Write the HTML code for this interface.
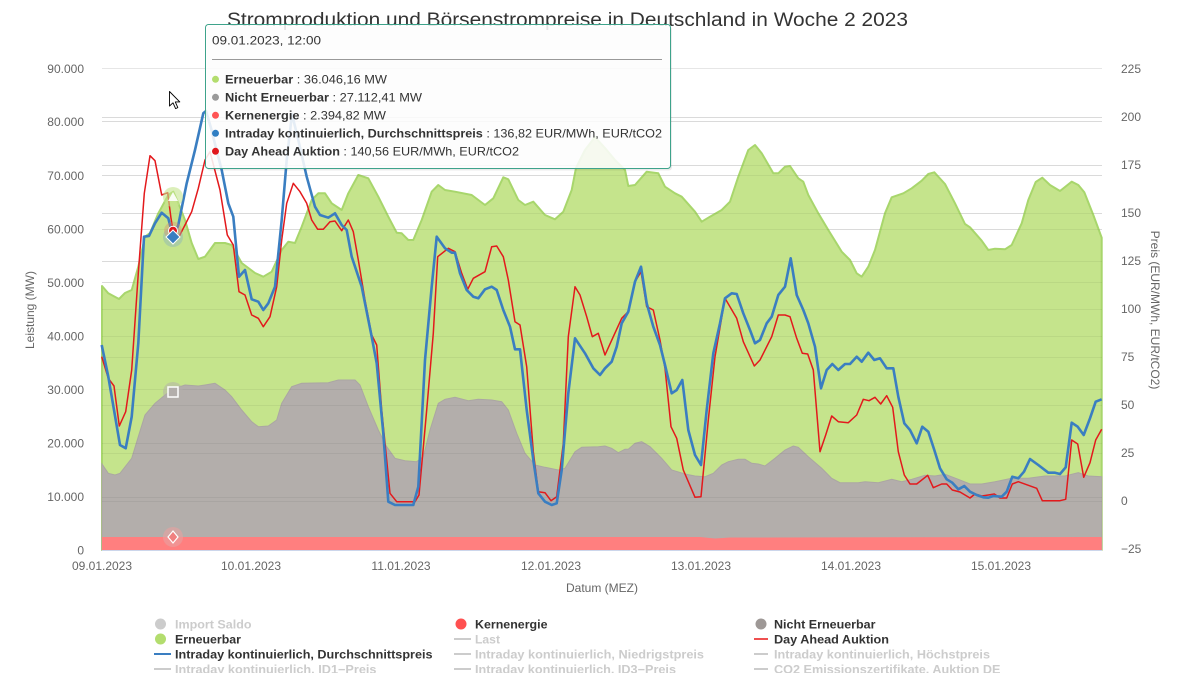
<!DOCTYPE html>
<html><head><meta charset="utf-8"><style>
html,body{margin:0;padding:0;background:#fff;}
svg{display:block;font-family:"Liberation Sans",sans-serif;}
</style></head><body>
<svg width="1186" height="673" viewBox="0 0 1186 673" xmlns="http://www.w3.org/2000/svg">
<rect width="1186" height="673" fill="#fff"/>
<!-- grid -->
<g stroke="#e6e6e6" stroke-width="1">
<path d="M102 68.5H1102M102 121.5H1102M102 175.5H1102M102 229.5H1102M102 282.5H1102M102 336.5H1102M102 389.5H1102M102 443.5H1102M102 497.5H1102"/>
<path d="M102 117.5H1102M102 165.5H1102M102 213.5H1102M102 261.5H1102M102 309.5H1102M102 357.5H1102M102 405.5H1102M102 453.5H1102M102 501.5H1102"/>
</g>
<!-- green area -->
<path fill="#c5e48c" stroke="#a8d66c" stroke-width="2" stroke-linejoin="round" d="M102,550 L102,286 108.3,293.3 119,299 125,293 131.7,290 138.3,266.7 145,236.7 150,233 158.3,213.3 168.3,195 173.3,191.7 178.3,203 185,220 191.7,243 198.3,259 205,256.7 215,243 225,243 231.7,245 241.7,263 255,273 263.3,276.7 271.7,271.7 281.7,250 288.3,241.7 295,243 301.7,226.7 311.7,200 318.3,193.3 325,193.3 331.7,203.3 341.7,210 348.3,193.3 358.3,175 368.3,178.3 378.3,196.7 388.3,216.7 396.7,232.7 401.7,233.3 408.3,240 413.3,240 421.7,220 431.7,191.7 438.3,185 445,190 455,191.7 471.7,195 485,205 493.3,198.3 503.3,177.3 508.3,179.3 518.3,200 525,205 533.3,201.7 545,215 555,219.3 563.3,211.7 571.7,190 576,168 585,150 595,137 605,148 615,160 625,170 628.3,186 635,185 646.7,171.7 658.3,173.3 665,186.7 675,193.3 681.7,196.7 695,211.7 701.7,221.7 710,216.7 721.7,210 730,201.7 738.3,176.7 748.3,150 755,145 761.7,153.3 773.3,173.3 778.3,173.3 785,166.7 790,166 798.3,178.3 803.3,181.7 808.3,195 818.3,213.3 828.3,230 841.7,251.7 850,260 856.7,273.3 861.7,276.7 868.3,266.7 875,250 885,213.3 891.7,197.3 903.3,193.3 911.7,188.3 921.7,180.7 928.3,174 934.3,172.3 945,184 955,203.3 965,224 970,227.3 981.7,240.7 988.3,250 995,248.7 1005,249.3 1011.7,245 1021.7,223.3 1028.3,200 1035.7,182 1042.3,177.7 1050,185 1060,191 1071.7,181.7 1078.3,185 1084.3,192.3 1093.3,215 1101.7,237.7 L1101.7,550 Z"/>
<!-- gray area -->
<path fill="#b3aeab" stroke="#aba6a3" stroke-width="1" d="M102,550 L102,464 108.3,473.3 115,475 120,473.3 131.7,458.3 138.3,436.7 145,415 155,403.3 165,395 175,388.3 185,385 198.3,386 205,385 215,383.3 225,390 231.7,396.7 241.7,410 251.7,421.7 258.3,426.7 268.3,426 276.7,420 281.7,403.3 291.7,386.7 301.7,383.3 328.3,382.7 338.3,380 355,380 360,385 368.3,406.7 378.3,430 386.7,446.7 395,458.3 405,460.7 416.7,461.7 423.3,456.7 430,430 438.3,403.3 445,399.3 455,397.3 468.3,400.7 478.3,399.3 491.7,400 501.7,401.7 508.3,410 516.7,433.3 525,453.3 535,465 545,467.3 558.3,470 565,468.3 575,451.7 581.7,447.3 598.3,446.7 605,446 611.7,448.3 618.3,452.7 625,449.3 628.3,449.3 635,443.3 641.7,441.7 650,446.7 661.7,458.3 671.7,470 685,474 695,476 705,476.7 713.3,473.3 721.7,465 728.3,461.7 738.3,459.3 745,459.3 751.7,463.3 758.3,464 765,466 775,458.3 785,450 793.3,446 798.3,447.3 808.3,456.7 821.7,468.3 831.7,478.3 840,482.7 858.3,482.7 865,481.7 878.3,482.7 891.7,479.3 901.7,481.7 911.7,479.3 925,475.3 935,476 945,474.3 958.3,479.3 970,484 981.7,484 995,481.7 1011.7,478.3 1028.3,478.3 1045,476 1065,476 1078.3,472.7 1088.3,476 1101.7,476.7 L1101.7,550 Z"/>
<!-- kern -->
<path fill="#ff7f7f" d="M102,537 L700,537 715,538.5 730,537.5 1101.7,537 L1101.7,550 L102,550 Z"/>
<!-- grid over areas -->
<g stroke="rgba(0,0,0,0.05)" stroke-width="1">
<path d="M102 121.5H1102M102 175.5H1102M102 229.5H1102M102 282.5H1102M102 336.5H1102M102 389.5H1102M102 443.5H1102M102 497.5H1102"/>
<path d="M102 117.5H1102M102 165.5H1102M102 213.5H1102M102 261.5H1102M102 309.5H1102M102 357.5H1102M102 405.5H1102M102 453.5H1102M102 501.5H1102"/>
</g>
<!-- x axis line -->
<path d="M102 550.5H1102" stroke="#ccd6eb" stroke-width="1"/>
<!-- red line -->
<polyline fill="none" stroke="#e3191c" stroke-width="1.5" stroke-linejoin="round" points="101.7,356.7 108.3,378.3 114,386 119.3,426 125.7,411.7 131.7,370 138.3,273.3 144.3,193.3 150,155.7 155,160.7 161.7,195 167.7,192.7 171,218.3 173.3,231.7 179,236.7 185,225 191.7,211.7 198.3,188.3 205,160 210,151.7 220,190 227.3,235 233.3,245 239,291.7 245,295 251.7,315 258.3,318.3 263.3,326.7 270,316.7 276.7,286.7 281.7,240 286.7,203.3 293.3,183.3 300,191.7 306.7,203.3 311.7,220 317.7,229.3 323.3,229.3 330,221.7 335,221 341.7,230.7 348.3,220 353.3,231.7 358.3,260 365,300 371.7,335 376.7,345 381.7,410 390,493.3 396.7,501.7 415,501.7 419,495 426.7,410 433.3,333.3 437.7,256.7 448.3,248.3 455,251.7 461.7,273.3 467.7,289.3 473.3,278.3 485,271.7 491.7,246.7 496.7,246 503.3,256.7 508.3,280 515,321.7 520,325 526.7,366.7 533.3,451.7 538.3,491.7 545,492.7 551,500.7 556.7,496.7 563.3,443.3 568.3,336.7 575,286.7 580,295 586.7,316.7 592.3,336.7 598.3,333.3 605,355 613.3,336.7 621.7,318.3 628.3,311.7 635,281.7 641,271.7 646.7,306.7 653.3,310 660,340 665,368.3 671,426.7 676.7,438.3 683.3,470 695,497.3 701,496.7 708.3,420 715,356.7 725,298.3 736.7,318.3 743.3,341.7 754.3,366 760,360 771.7,336.7 778.3,315 785,315 790,316.7 796.7,338.3 802.3,353.3 807.7,354 813.3,370 820,451.7 825.7,435 831.7,416 838.3,421.7 848.3,422.7 856.7,415 863.3,399.3 869,400.7 875,397.3 880.7,404 886.7,395.7 892.7,407.3 898.3,451.7 904.3,475 910,484 916.7,484 927.7,475.3 933.3,487.7 941.7,484 946.7,484 952.3,490 960,492 970,498 975,494 981.7,496 988.3,495 994.3,494 1000,498 1006.7,498 1012.3,484 1018.3,481.7 1036.7,488.3 1042.3,500.7 1060,500.7 1065.7,499.3 1071.7,440 1077.7,444 1083.7,477.3 1090,462.7 1095.7,440 1101.7,429.3"/>
<!-- blue line -->
<polyline fill="none" stroke="#3a7ec1" stroke-width="2.6" stroke-linejoin="round" points="101.7,345 108.3,376.7 120,445 125.7,448.3 131.7,416.7 138.3,343.3 144,236.7 149,236 155,223.3 161.7,212.7 168.3,218.3 173.3,238.3 178.3,225 186.7,183.3 195,150 203.3,113.3 206,111 211,128 216,148 221.7,170 228.3,203.3 233.3,216.7 239,276.7 245,270 251.7,299.3 258.3,301.7 263.3,310 268.3,303.3 275,286.7 281.7,220 286.7,160 292,114 298.3,140 306.7,176.7 315,206.7 320,215 328.3,217.7 335,213.3 341.7,225 346.7,230 351.7,256.7 361.7,286.7 371.7,336.7 376.7,363.3 383.3,433.3 388.3,501.7 395,505 413.3,505 418.3,486.7 425,360 431.7,286.7 436.7,236.7 445,248.3 451.7,252.7 455,252.7 460,273.3 466.7,290 473.3,296.7 478.3,298.3 485,289.3 491.7,286.7 496.7,290 503.3,310 510,326.7 515,349.3 520,349.3 526.7,410 533.3,460 538.3,493.3 545,501.7 551.7,505 556.7,503.3 561.7,470 568.3,393.3 575,338.3 585,353.3 593.3,368.3 600,375 605,368.3 611.7,361.7 616.7,346.7 621.7,323.3 628.3,311.7 635,281.7 641,266.7 646.7,303.3 653.3,326.7 660,345 665,365 671.7,393.3 676.7,390 682.3,380 688.3,430 695,455 701,465 706.7,410 713.3,353.3 720,323.3 725,298.3 731.7,293.3 736.7,294 743.3,313.3 750,330 755,343.3 760,340 766.7,323.3 771.7,316.7 778.3,295 785,286.7 790.7,258.3 796.7,295 803.3,310 808.3,323.3 815,346.7 821,388.3 826.7,370 832.3,364 838.3,370 845,364 850,364 856.7,356.7 861.7,361.7 868.3,352.7 874.3,360 880,358.3 886.7,368.3 893.3,368.3 898.3,396.7 904.3,423.3 910,430 916.7,443.3 922.3,426.7 928.3,431.7 934.3,450 940,468.3 946.7,479.3 952.3,482.7 958.3,489.3 964.3,486 970,491.7 976.7,495 983.3,497.3 988.3,497.7 993.3,496 1001.7,496.7 1006.7,491.7 1012.3,476.7 1018.3,478.3 1024,471.7 1030,459 1038.3,465 1048.3,472.7 1055,472.7 1060,474 1065.7,467.3 1071.7,422.7 1077.7,426.7 1083.7,435 1090,418.3 1095.7,401.7 1101.7,399.3"/>
<!-- hover markers -->
<circle cx="173" cy="197" r="10" fill="#c5e48c" opacity="0.6"/>
<path d="M173,192 L178,201 L168,201 Z" fill="#ffffff" opacity="0.9"/>
<circle cx="173" cy="392" r="10" fill="#b3aeab" opacity="0.5"/>
<rect x="168" y="387" width="10" height="10" fill="#b3aeab" stroke="#fff" stroke-width="1.5"/>
<circle cx="173" cy="537" r="10" fill="#e8a0a0" opacity="0.6"/>
<path d="M173,531 L178,537 L173,543 L168,537 Z" fill="#f08080" stroke="#fff" stroke-width="1.2"/>
<circle cx="173" cy="237" r="10" fill="#7aa6c8" opacity="0.35"/>
<circle cx="173" cy="230.7" r="9" fill="#d98a6a" opacity="0.35"/>
<circle cx="173" cy="230.7" r="4.5" fill="#e0161c" stroke="#fff" stroke-width="1"/>
<path d="M173,230 L180,237 L173,244 L166,237 Z" fill="#3a7ec1" stroke="#fff" stroke-width="1"/>
<!-- y axis labels left -->
<g font-size="12" fill="#666" text-anchor="end">
<text x="84" y="73">90.000</text>
<text x="84" y="126">80.000</text>
<text x="84" y="180">70.000</text>
<text x="84" y="233.5">60.000</text>
<text x="84" y="287">50.000</text>
<text x="84" y="340.5">40.000</text>
<text x="84" y="394">30.000</text>
<text x="84" y="447.5">20.000</text>
<text x="84" y="501">10.000</text>
<text x="84" y="554.5">0</text>
</g>
<text transform="translate(34,310) rotate(-90)" text-anchor="middle" font-size="12" fill="#666">Leistung (MW)</text>
<!-- right axis labels -->
<g font-size="12" fill="#666">
<text x="1121" y="73">225</text>
<text x="1121" y="121">200</text>
<text x="1121" y="169">175</text>
<text x="1121" y="217">150</text>
<text x="1121" y="265">125</text>
<text x="1121" y="313">100</text>
<text x="1121" y="361">75</text>
<text x="1121" y="409">50</text>
<text x="1121" y="457">25</text>
<text x="1121" y="505">0</text>
<text x="1121" y="553">−25</text>
</g>
<text transform="translate(1151,310) rotate(90)" text-anchor="middle" font-size="12" fill="#666">Preis (EUR/MWh, EUR/tCO2)</text>
<!-- x labels -->
<g font-size="12" fill="#666" text-anchor="middle">
<text x="102" y="570">09.01.2023</text>
<text x="251" y="570">10.01.2023</text>
<text x="401" y="570">11.01.2023</text>
<text x="551" y="570">12.01.2023</text>
<text x="701" y="570">13.01.2023</text>
<text x="851" y="570">14.01.2023</text>
<text x="1001" y="570">15.01.2023</text>
<text x="602" y="592">Datum (MEZ)</text>
</g>
<!-- title -->
<text x="227" y="26" font-size="19" fill="#333" textLength="681" lengthAdjust="spacingAndGlyphs">Stromproduktion und Börsenstrompreise in Deutschland in Woche 2 2023</text>
<!-- legend -->
<g font-size="12" font-weight="bold">
<circle cx="160.5" cy="624" r="5.5" fill="#cccccc"/>
<text x="175" y="628.5" fill="#cccccc" textLength="76.5" lengthAdjust="spacingAndGlyphs">Import Saldo</text>
<circle cx="160.5" cy="639" r="5.5" fill="#b3dd6e"/>
<text x="175" y="643.5" fill="#333" textLength="66" lengthAdjust="spacingAndGlyphs">Erneuerbar</text>
<path d="M154 654H171" stroke="#3a7ec1" stroke-width="2"/>
<text x="175" y="658.5" fill="#333" textLength="257.5" lengthAdjust="spacingAndGlyphs">Intraday kontinuierlich, Durchschnittspreis</text>
<path d="M154 669H171" stroke="#cccccc" stroke-width="2"/>
<text x="175" y="673.5" fill="#cccccc" textLength="201.5" lengthAdjust="spacingAndGlyphs">Intraday kontinuierlich, ID1−Preis</text>

<circle cx="461" cy="624" r="5.5" fill="#ff5050"/>
<text x="475" y="628.5" fill="#333" textLength="72.5" lengthAdjust="spacingAndGlyphs">Kernenergie</text>
<path d="M454 639H471" stroke="#cccccc" stroke-width="2"/>
<text x="475" y="643.5" fill="#cccccc" textLength="25" lengthAdjust="spacingAndGlyphs">Last</text>
<path d="M454 654H471" stroke="#cccccc" stroke-width="2"/>
<text x="475" y="658.5" fill="#cccccc" textLength="229" lengthAdjust="spacingAndGlyphs">Intraday kontinuierlich, Niedrigstpreis</text>
<path d="M454 669H471" stroke="#cccccc" stroke-width="2"/>
<text x="475" y="673.5" fill="#cccccc" textLength="201" lengthAdjust="spacingAndGlyphs">Intraday kontinuierlich, ID3−Preis</text>

<circle cx="761" cy="624" r="5.5" fill="#9e9896"/>
<text x="774" y="628.5" fill="#333" textLength="101.5" lengthAdjust="spacingAndGlyphs">Nicht Erneuerbar</text>
<path d="M754 639H768" stroke="#ef5050" stroke-width="2"/>
<text x="774" y="643.5" fill="#333" textLength="115" lengthAdjust="spacingAndGlyphs">Day Ahead Auktion</text>
<path d="M754 654H768" stroke="#cccccc" stroke-width="2"/>
<text x="774" y="658.5" fill="#cccccc" textLength="216" lengthAdjust="spacingAndGlyphs">Intraday kontinuierlich, Höchstpreis</text>
<path d="M754 669H768" stroke="#cccccc" stroke-width="2"/>
<text x="774" y="673.5" fill="#cccccc" textLength="226.5" lengthAdjust="spacingAndGlyphs">CO2 Emissionszertifikate, Auktion DE</text>
</g>
<!-- cursor -->
<path d="M169.5,91.5 L169.5,106 L173,102.8 L175.6,108.6 L177.8,107.6 L175.3,101.9 L179.8,101.9 Z" fill="#fff" stroke="#000" stroke-width="0.9" stroke-linejoin="round"/>
<!-- tooltip -->
<rect x="207" y="26.5" width="465" height="144" rx="3" fill="#000" opacity="0.08"/>
<rect x="205.5" y="24.5" width="465" height="144" rx="3" fill="#ffffff" fill-opacity="0.87" stroke="#3ea38b" stroke-width="1"/>
<text x="212" y="44.5" font-size="12" fill="#333" textLength="109" lengthAdjust="spacingAndGlyphs">09.01.2023, 12:00</text>
<path d="M212 59.5H662" stroke="#999" stroke-width="1"/>
<g font-size="12" fill="#333">
<circle cx="215.5" cy="79.3" r="3.5" fill="#b3dd6e"/>
<text x="225" y="83.5" textLength="162" lengthAdjust="spacingAndGlyphs"><tspan font-weight="bold">Erneuerbar</tspan> : 36.046,16 MW</text>
<circle cx="215.5" cy="97.3" r="3.5" fill="#9a9a9a"/>
<text x="225" y="101.5" textLength="197" lengthAdjust="spacingAndGlyphs"><tspan font-weight="bold">Nicht Erneuerbar</tspan> : 27.112,41 MW</text>
<circle cx="215.5" cy="115.3" r="3.5" fill="#ff5555"/>
<text x="225" y="119.5" textLength="161" lengthAdjust="spacingAndGlyphs"><tspan font-weight="bold">Kernenergie</tspan> : 2.394,82 MW</text>
<circle cx="215.5" cy="133.3" r="3.5" fill="#2f7ec3"/>
<text x="225" y="137.5" textLength="437" lengthAdjust="spacingAndGlyphs"><tspan font-weight="bold">Intraday kontinuierlich, Durchschnittspreis</tspan> : 136,82 EUR/MWh, EUR/tCO2</text>
<circle cx="215.5" cy="151.3" r="3.5" fill="#e0161c"/>
<text x="225" y="155.5" textLength="294" lengthAdjust="spacingAndGlyphs"><tspan font-weight="bold">Day Ahead Auktion</tspan> : 140,56 EUR/MWh, EUR/tCO2</text>
</g>
</svg>
</body></html>
